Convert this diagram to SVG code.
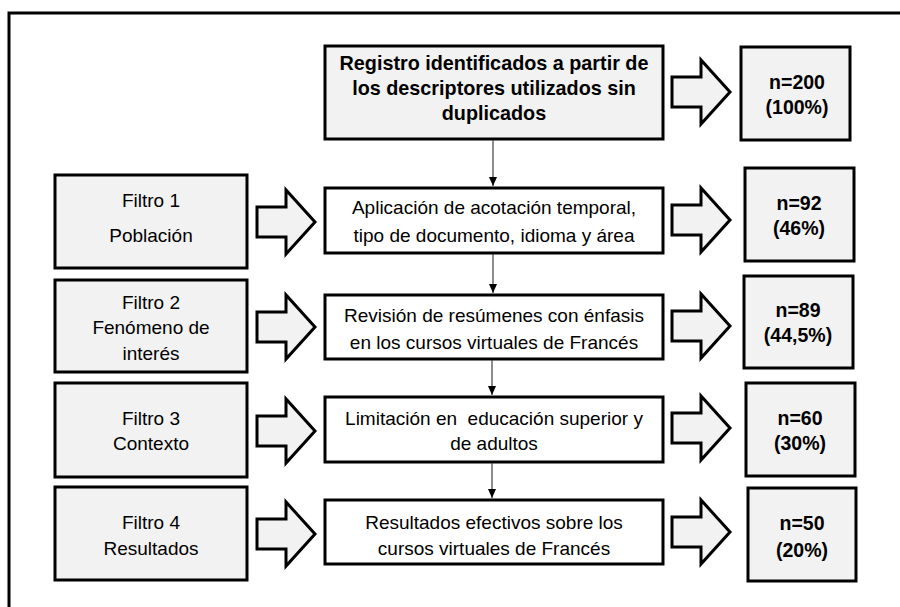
<svg xmlns="http://www.w3.org/2000/svg" xmlns:xlink="http://www.w3.org/1999/xlink" width="900" height="607" viewBox="0 0 900 607">
<style>
.box{stroke:#000;stroke-width:3}
.g{fill:#f2f2f2}
.w{fill:#fff}
text{font-family:"Liberation Sans",Arial,sans-serif;font-size:19px;fill:#000;text-anchor:middle}
.b{font-weight:bold;font-size:19.5px}
.conn{stroke:#404040;stroke-width:1.2;fill:none}
</style>
<defs>
<path id="blk" d="M0,-15 H29 V-32 L58,0 L29,32 V15 H0 Z" fill="#f2f2f2" stroke="#000" stroke-width="3"/>
<marker id="ah" markerWidth="10" markerHeight="10" refX="9" refY="5" orient="auto" markerUnits="userSpaceOnUse">
<path d="M0,1 L9,5 L0,9 Z" fill="#000"/>
</marker>
</defs>
<rect width="900" height="607" fill="#fff"/>
<path d="M9,607 V13 H900" fill="none" stroke="#000" stroke-width="3"/>

<g id="top">
<rect class="box g" x="325" y="46" width="338" height="93"/>
<text class="b" x="494" y="70" style="font-size:19.8px">Registro identificados a partir de</text>
<text class="b" x="494" y="95" style="font-size:19.8px">los descriptores utilizados sin</text>
<text class="b" x="494" y="120" style="font-size:19.8px">duplicados</text>
</g>
<g id="n200">
<rect class="box g" x="741" y="47" width="109" height="93"/>
<text class="b" x="797" y="89">n=200</text>
<text class="b" x="797" y="114">(100%)</text>
</g>

<g id="f1">
<rect class="box g" x="55" y="175" width="192" height="93"/>
<text x="151" y="207">Filtro 1</text>
<text x="151" y="242">Población</text>
</g>
<g id="m1">
<rect class="box w" x="325" y="188" width="338" height="65"/>
<text x="494" y="214">Aplicación de acotación temporal,</text>
<text x="494" y="242">tipo de documento, idioma y área</text>
</g>
<g id="n92">
<rect class="box g" x="745" y="168" width="109" height="93"/>
<text class="b" x="799" y="210">n=92</text>
<text class="b" x="799" y="235">(46%)</text>
</g>

<g id="f2">
<rect class="box g" x="55" y="280" width="192" height="92"/>
<text x="151" y="309">Filtro 2</text>
<text x="151" y="334">Fenómeno de</text>
<text x="151" y="360">interés</text>
</g>
<g id="m2">
<rect class="box w" x="325" y="295" width="338" height="64"/>
<text x="494" y="322">Revisión de resúmenes con énfasis</text>
<text x="494" y="349">en los cursos virtuales de Francés</text>
</g>
<g id="n89">
<rect class="box g" x="744" y="276" width="109" height="92"/>
<text class="b" x="798" y="317">n=89</text>
<text class="b" x="798" y="342">(44,5%)</text>
</g>

<g id="f3">
<rect class="box g" x="55" y="383" width="192" height="94"/>
<text x="151" y="425">Filtro 3</text>
<text x="151" y="450">Contexto</text>
</g>
<g id="m3">
<rect class="box w" x="325" y="397" width="338" height="65"/>
<text x="494" y="425" xml:space="preserve">Limitación en  educación superior y</text>
<text x="494" y="450">de adultos</text>
</g>
<g id="n60">
<rect class="box g" x="746" y="383" width="109" height="93"/>
<text class="b" x="800" y="425">n=60</text>
<text class="b" x="800" y="450">(30%)</text>
</g>

<g id="f4">
<rect class="box g" x="55" y="487" width="192" height="93"/>
<text x="151" y="529">Filtro 4</text>
<text x="151" y="555">Resultados</text>
</g>
<g id="m4">
<rect class="box w" x="325" y="500" width="338" height="64"/>
<text x="494" y="529">Resultados efectivos sobre los</text>
<text x="494" y="555">cursos virtuales de Francés</text>
</g>
<g id="n50">
<rect class="box g" x="748" y="488" width="108" height="93"/>
<text class="b" x="802" y="530">n=50</text>
<text class="b" x="802" y="557">(20%)</text>
</g>

<g id="connectors">
<use xlink:href="#blk" x="672" y="92"/>
<use xlink:href="#blk" x="257" y="222"/>
<use xlink:href="#blk" x="672" y="220"/>
<use xlink:href="#blk" x="257" y="327"/>
<use xlink:href="#blk" x="672" y="326"/>
<use xlink:href="#blk" x="257" y="431"/>
<use xlink:href="#blk" x="672" y="428"/>
<use xlink:href="#blk" x="257" y="534"/>
<use xlink:href="#blk" x="672" y="532"/>
<line class="conn" x1="493" y1="140" x2="493" y2="186" marker-end="url(#ah)"/>
<line class="conn" x1="493" y1="254" x2="493" y2="293" marker-end="url(#ah)"/>
<line class="conn" x1="492" y1="360" x2="492" y2="395" marker-end="url(#ah)"/>
<line class="conn" x1="492" y1="463" x2="492" y2="498" marker-end="url(#ah)"/>
</g>
</svg>
